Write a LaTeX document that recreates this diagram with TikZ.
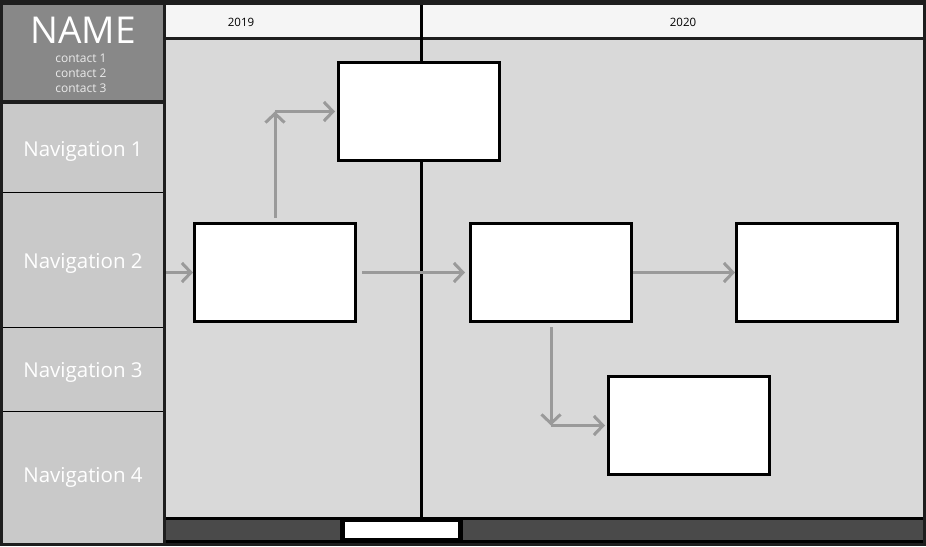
\documentclass[tikz,border=0pt]{standalone}
\usepackage{fontspec}
\setmainfont{Open Sans}
\usetikzlibrary{arrows.meta}
\definecolor{framegray}{HTML}{1E1E1E}
\definecolor{panelgray}{HTML}{D9D9D9}
\definecolor{sidegray}{HTML}{C9C9C9}
\definecolor{namegray}{HTML}{888888}
\definecolor{headgray}{HTML}{F5F5F5}
\definecolor{footgray}{HTML}{4A4A4A}
\definecolor{arrowgray}{HTML}{9A9A9A}
\tikzstyle{every picture}=[x=1pt, y=-1pt]
\tikzstyle{card}=[draw=black, fill=white, line width=3pt, minimum width=161pt, minimum height=98pt, inner sep=0pt]
\tikzstyle{navtext}=[text=white, font=\fontsize{20.5}{24}\selectfont]
\tikzstyle{contacttext}=[text=white!92!black, font=\fontsize{12}{14}\selectfont]
\tikzstyle{yeartext}=[text=black, font=\fontsize{11.5}{13}\selectfont]
\tikzstyle{flow}=[-{Straight Barb[length=9pt, width=19pt]}, draw=arrowgray, line width=3pt]

\begin{document}
\begin{tikzpicture}
	\useasboundingbox (0,0) rectangle (926,546);

	% frame and panels
	\fill[framegray] (0,0) rectangle (926,546);
	\fill[namegray] (3,5) rectangle (163,100);
	\fill[sidegray] (3,104) rectangle (163,543);
	\fill[headgray] (166,5) rectangle (923,37);
	\fill[panelgray] (166,40) rectangle (923,517);
	\fill[black] (166,517) rectangle (923,543);
	\fill[footgray] (166,520) rectangle (340,540);
	\fill[white] (345,522) rectangle (458,538);
	\fill[footgray] (463,520) rectangle (923,540);
	\draw[black, line width=1pt] (3,192) -- (163,192) (3,327) -- (163,327) (3,411) -- (163,411);
	\draw[black, line width=3pt] (421.5,5) -- (421.5,517);

	\path (83,30) node[text=white, font=\fontsize{37}{40}\selectfont] (name) {NAME}
	      (81,58) node[contacttext] (contact_1) {contact 1}
	      (81,73) node[contacttext] (contact_2) {contact 2}
	      (81,88) node[contacttext] (contact_3) {contact 3}
	      (83,151) node[navtext] (nav_1) {Navigation 1}
	      (83,263) node[navtext] (nav_2) {Navigation 2}
	      (83,372) node[navtext] (nav_3) {Navigation 3}
	      (83,477) node[navtext] (nav_4) {Navigation 4}
	      (241,22) node[yeartext] (year_1) {2019}
	      (683,22) node[yeartext] (year_2) {2020};

	\path (419,111.5) node[card] (box_0) {}
	      (275,272.5) node[card] (box_1) {}
	      (551,272.5) node[card] (box_2) {}
	      (817,272.5) node[card] (box_3) {}
	      (689,425.5) node[card] (box_4) {};

	\coordinate (in_0) at (166,272.5);
	\coordinate (bend_1) at (275,111.5);
	\coordinate (bend_2) at (551,425.5);

	\draw[flow] (in_0) -- (box_1);
	\draw[flow, shorten <=4pt] (box_1) -- (bend_1);
	\draw[flow, shorten >=2pt] (bend_1) -- (box_0);
	\draw[flow, shorten <=5pt, shorten >=4pt] (box_1) -- (box_2);
	\draw[flow] (box_2) -- (box_3);
	\draw[flow, shorten <=4pt] (box_2) -- (bend_2);
	\draw[flow, shorten >=2pt] (bend_2) -- (box_4);

\end{tikzpicture}
\end{document}
